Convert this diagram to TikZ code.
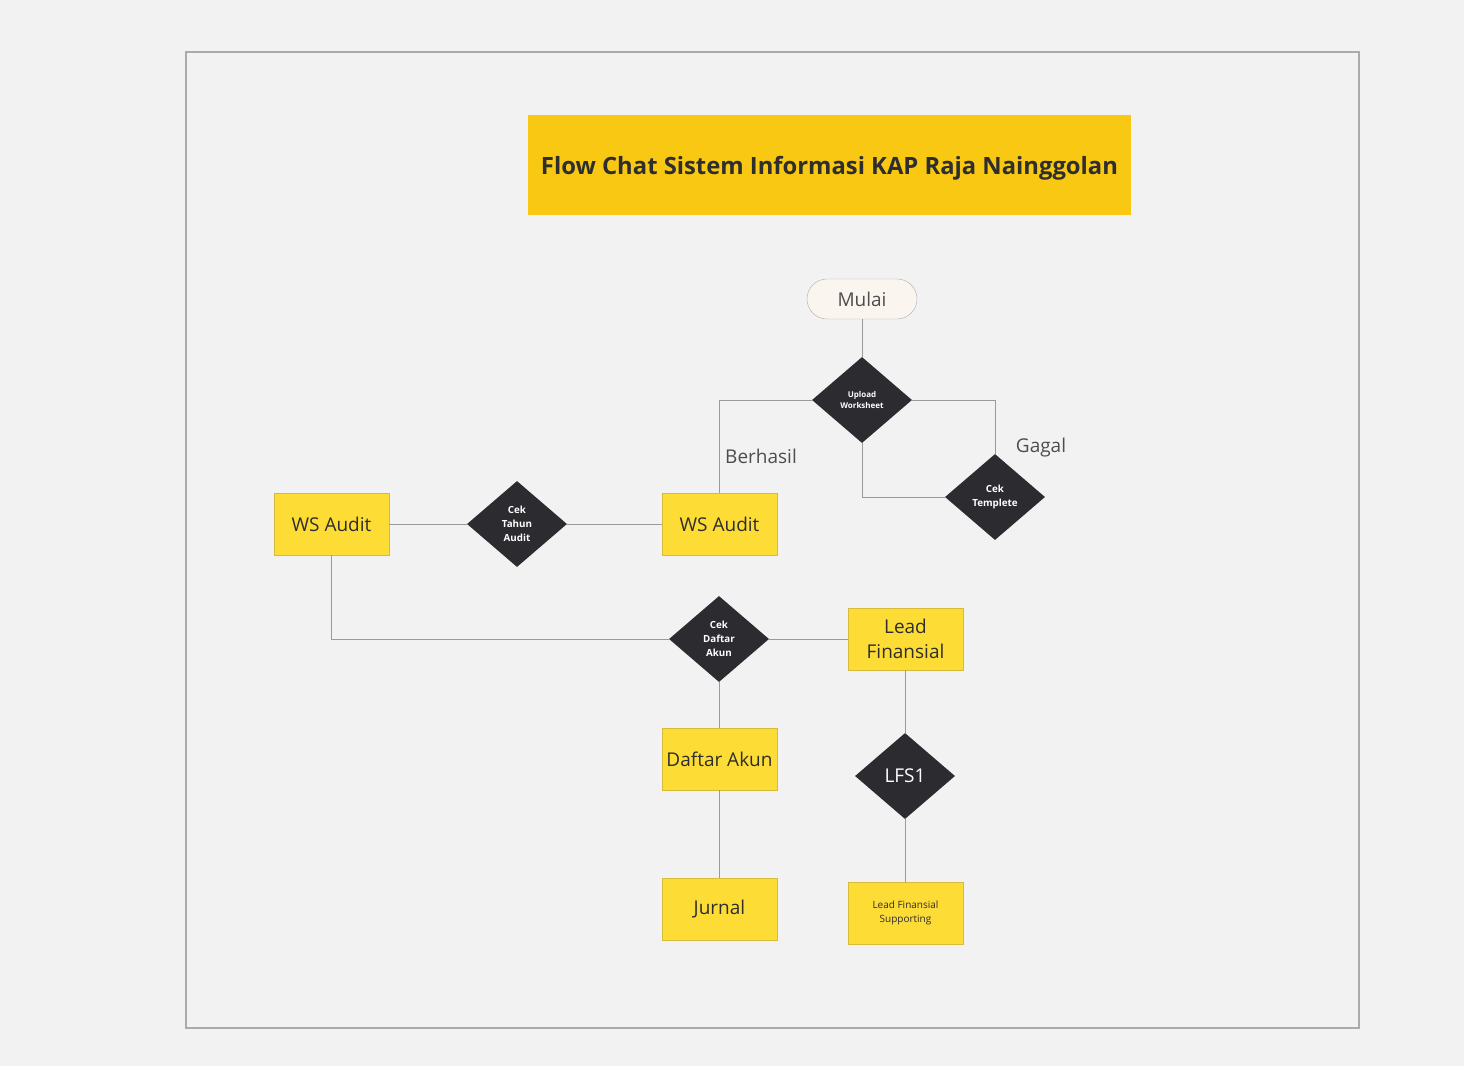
\documentclass[tikz,border=0pt]{standalone}
\usepackage{fontspec}
\setmainfont{Open Sans}
\usetikzlibrary{shapes.geometric}
\definecolor{bgc}{HTML}{F2F2F2}
\definecolor{framec}{HTML}{ABABAB}
\definecolor{titlec}{HTML}{F8C813}
\definecolor{boxc}{HTML}{FDDC35}
\definecolor{boxb}{HTML}{D6BC3A}
\definecolor{diac}{HTML}{2B2B30}
\definecolor{linec}{HTML}{9A9A9A}
\definecolor{pillc}{HTML}{FAF6EF}
\definecolor{txtc}{HTML}{2E2E2E}
\tikzset{
  ybox/.style={draw=boxb, fill=boxc, line width=0.8pt, minimum width=115pt, minimum height=62pt, inner sep=2pt, align=center, text=txtc, font=\fontsize{19}{23}\selectfont},
  dia/.style={diamond, fill=diac, minimum width=100pt, minimum height=86pt, inner sep=0pt, align=center, text=white},
  conn/.style={draw=linec, line width=1pt},
  lbl/.style={text=txtc!85, font=\fontsize{19}{23}\selectfont, inner sep=0pt}
}
\begin{document}
\begin{tikzpicture}[x=1pt,y=-1pt]
\fill[bgc] (0,0) rectangle (1464,1066);
\useasboundingbox (0,0) rectangle (1464,1066);
\node[draw=framec, line width=1.2pt, minimum width=1173pt, minimum height=976pt, inner sep=0pt] (frame) at (772.5,540) {};
\node[fill=titlec, minimum width=603pt, minimum height=100pt, inner sep=0pt] (title) at (829.5,165) {};
\node[text=txtc, font=\bfseries\fontsize{23.8}{28}\selectfont, inner sep=0pt] (titletext) at (829.5,168) {Flow Chat Sistem Informasi KAP Raja Nainggolan};

\node[draw=linec!80, fill=pillc, rounded corners=20pt, minimum width=110pt, minimum height=40pt, inner sep=0pt, text=txtc!85, font=\fontsize{19}{23}\selectfont] (mulai) at (862,299) {Mulai};
\node[dia, font=\bfseries\fontsize{8}{11}\selectfont] (upload) at (862,400) {Upload\\Worksheet};
\node[dia, font=\bfseries\fontsize{9.8}{14}\selectfont] (templete) at (995,497) {Cek\\Templete};
\node[ybox] (wsr) at (719.5,524) {WS Audit};
\node[dia, font=\bfseries\fontsize{9.8}{14}\selectfont] (tahun) at (517,524) {Cek\\Tahun\\Audit};
\node[ybox] (wsl) at (331.5,524) {WS Audit};
\node[dia, font=\bfseries\fontsize{9.8}{14}\selectfont] (cekdaftar) at (719,639) {Cek\\Daftar\\Akun};
\node[ybox, font=\fontsize{19}{25}\selectfont] (lead) at (905.5,639) {Lead\\Finansial};
\node[ybox] (daftar) at (719.5,759) {Daftar Akun};
\node[dia, font=\fontsize{19}{23}\selectfont] (lfs) at (905,776) {LFS1};
\node[ybox] (jurnal) at (719.5,909) {Jurnal};
\node[ybox, font=\fontsize{10}{14}\selectfont] (supp) at (905.5,913) {Lead Finansial\\Supporting};

\coordinate (c1) at (719,400);
\coordinate (c2) at (995,400);
\coordinate (c3) at (862,497);
\coordinate (c4) at (331.5,639);

\draw[conn] (mulai.south) -- (upload.north);
\draw[conn] (upload.west) -- (c1) -- (wsr.north -| c1);
\draw[conn] (upload.east) -- (c2) -- (templete.north);
\draw[conn] (templete.west) -- (c3) -- (upload.south);
\draw[conn] (wsr.west) -- (tahun.east);
\draw[conn] (tahun.west) -- (wsl.east);
\draw[conn] (wsl.south) -- (c4) -- (cekdaftar.west);
\draw[conn] (cekdaftar.east) -- (lead.west);
\draw[conn] (cekdaftar.south) -- (daftar.north -| cekdaftar.south);
\draw[conn] (daftar.south) -- (jurnal.north);
\draw[conn] (lead.south) -- (lfs.north -| lead.south);
\draw[conn] (lfs.south) -- (supp.north -| lfs.south);

\node[lbl] (berhasil) at (761,456) {Berhasil};
\node[lbl] (gagal) at (1041,448) {Gagal};
\end{tikzpicture}
\end{document}
